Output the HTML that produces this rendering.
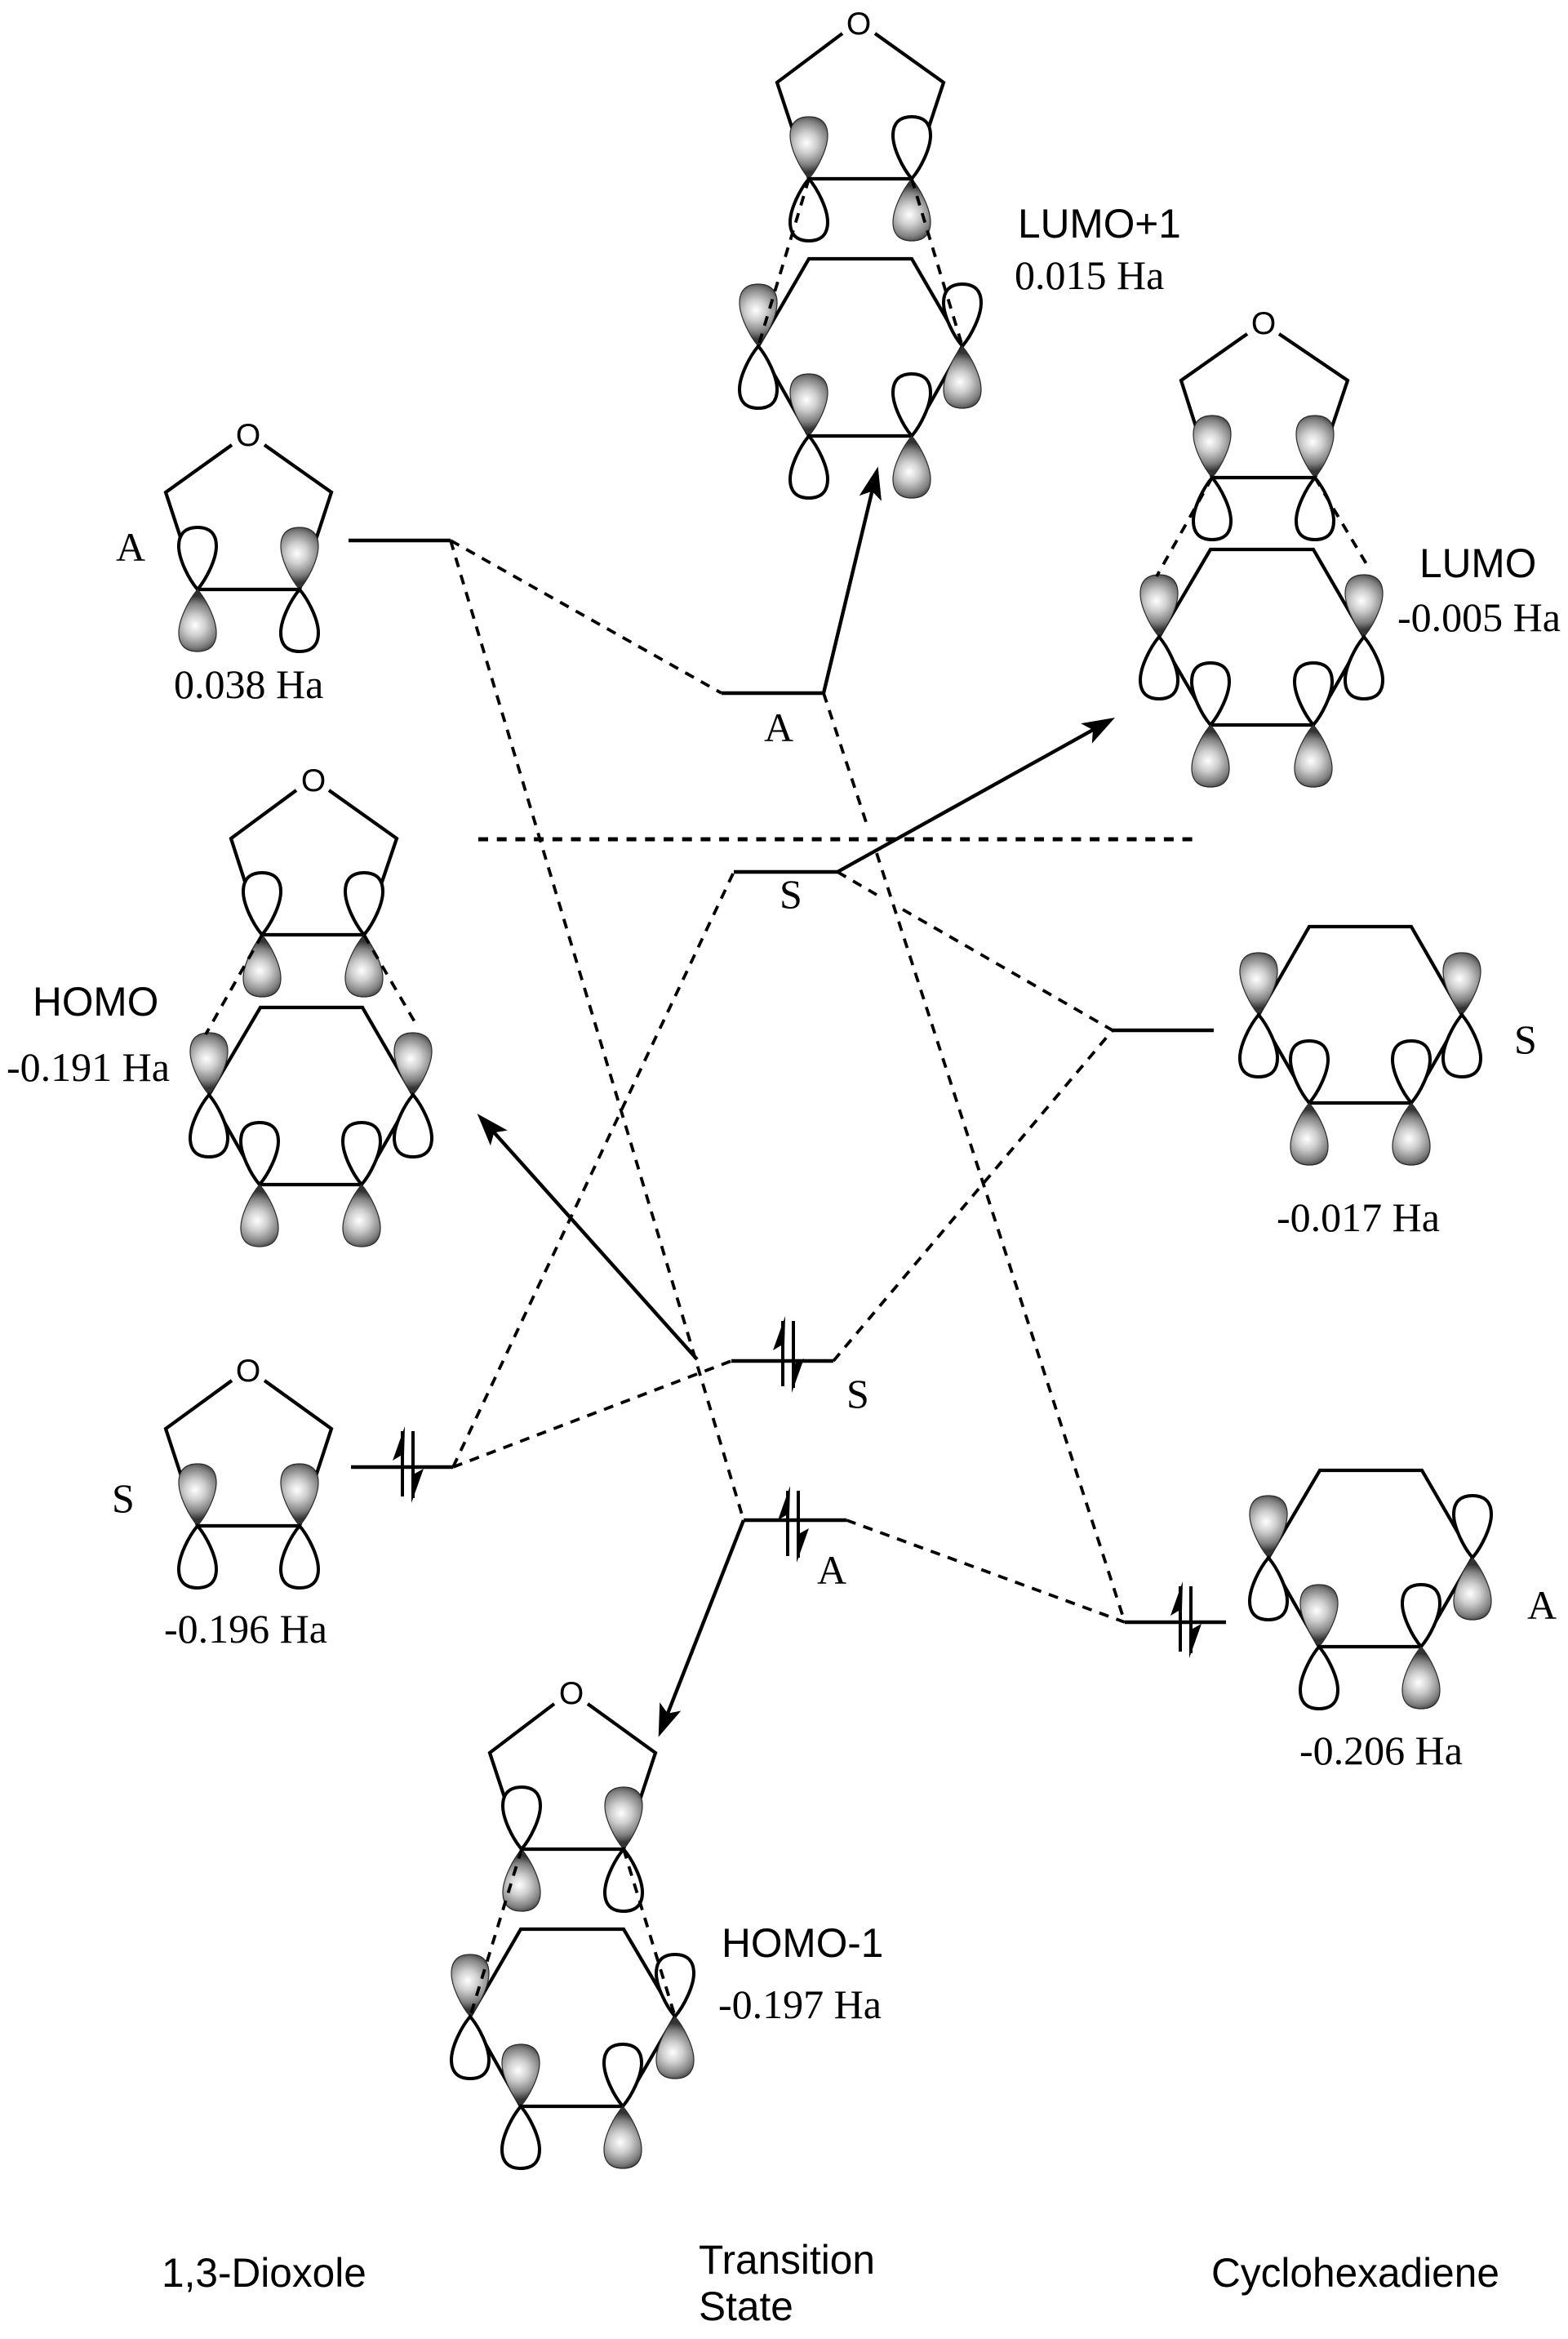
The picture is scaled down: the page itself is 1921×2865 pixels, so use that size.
<!DOCTYPE html>
<html>
<head>
<meta charset="utf-8">
<title>Frontier orbital diagram</title>
<style>
html,body{margin:0;padding:0;background:#fff;width:1921px;height:2865px;overflow:hidden}
svg{display:block}
.b{fill:none;stroke:#000;stroke-width:4.2;stroke-linecap:butt;stroke-linejoin:miter}
.d{fill:none;stroke:#000;stroke-width:3.8;stroke-dasharray:12 10}
.l{fill:none;stroke:#000;stroke-width:4.5}
.a{fill:none;stroke:#000;stroke-width:4.4}
.v{font-family:"Liberation Serif",serif;font-size:50px;fill:#000}
.t{font-family:"Liberation Sans",sans-serif;font-size:49.6px;fill:#000}
.o{font-family:"Liberation Sans",sans-serif;font-size:39px;fill:#000;text-anchor:middle}
</style>
</head>
<body>
<svg xmlns="http://www.w3.org/2000/svg" width="1921" height="2865" viewBox="0 0 1921 2865">
<defs>
<radialGradient id="gu" gradientUnits="userSpaceOnUse" cx="-3" cy="-44" r="36">
<stop offset="0" stop-color="#fff"/><stop offset=".35" stop-color="#cfcfcf"/><stop offset=".75" stop-color="#808080"/><stop offset="1" stop-color="#333"/>
</radialGradient>
<radialGradient id="gd" gradientUnits="userSpaceOnUse" cx="-3" cy="44" r="36">
<stop offset="0" stop-color="#fff"/><stop offset=".35" stop-color="#cfcfcf"/><stop offset=".75" stop-color="#808080"/><stop offset="1" stop-color="#333"/>
</radialGradient>
<path id="pu" d="M0,0C-11,-13 -23,-37 -23,-53C-23,-69 -14,-76 0,-76C14,-76 23,-69 23,-53C23,-37 11,-13 0,0Z"/>
<path id="pd" d="M0,0C-11,13 -23,37 -23,53C-23,69 -14,76 0,76C14,76 23,69 23,53C23,37 11,13 0,0Z"/>
<use id="uo" href="#pu" fill="#fff" stroke="#000" stroke-width="4"/>
<use id="do" href="#pd" fill="#fff" stroke="#000" stroke-width="4"/>
<use id="uf" href="#pu" fill="url(#gu)" stroke="#2a2a2a" stroke-width="1.2"/>
<use id="df" href="#pd" fill="url(#gd)" stroke="#2a2a2a" stroke-width="1.2"/>
<marker id="ah" markerUnits="userSpaceOnUse" markerWidth="44" markerHeight="32" refX="20" refY="16" orient="auto">
<path d="M40,16L0,2L9,16L0,30Z" fill="#000"/>
</marker>
<g id="spin">
<path d="M0,-44V36M13,-44V38" fill="none" stroke="#000" stroke-width="4"/>
<path d="M3,-50L-12,-8L-2,-14L2,-14Z" fill="#000"/>
<path d="M11,44L26,2L15,8L11,8Z" fill="#000"/>
</g>
</defs>

<!-- connectors -->
<path class="d" d="M552,662L884,849"/>
<path class="d" d="M552,662L911,1862"/>
<path class="d" d="M1009,849L1063,1013"/>
<path class="d" d="M1074,1045L1378,1987"/>
<path class="d" d="M555,1797L899,1068"/>
<path class="d" d="M555,1797L896,1667"/>
<path class="d" d="M1026,1068L1074,1096"/>
<path class="d" d="M1106,1114L1363,1262"/>
<path class="d" d="M1021,1667L1363,1262"/>
<path class="d" d="M1037,1862L1378,1987"/>
<path fill="none" stroke="#000" stroke-width="5" stroke-dasharray="12 10.7" d="M586,1028H1467"/>

<!-- levels -->
<path class="l" d="M427,662H552"/>
<path class="l" d="M884,849H1009"/>
<path class="l" d="M899,1068H1026"/>
<path class="l" d="M1363,1262H1487"/>
<path class="l" d="M430,1797H555"/>
<path class="l" d="M896,1667H1021"/>
<path class="l" d="M911,1862H1037"/>
<path class="l" d="M1378,1987H1502"/>

<use href="#spin" transform="translate(493,1797)"/>
<use href="#spin" transform="translate(959,1662)"/>
<use href="#spin" transform="translate(965,1870)"/>
<use href="#spin" transform="translate(1446,1987)"/>

<!-- solid arrows -->
<path class="a" d="M1009,849L1071,591" marker-end="url(#ah)"/>
<path class="a" d="M1026,1068L1348.5,888.7" marker-end="url(#ah)"/>
<path class="a" d="M854,1665L598,1379" marker-end="url(#ah)"/>
<path class="a" d="M911,1862L814,2109" marker-end="url(#ah)"/>

<!-- LUMO+1 (TS) -->
<path class="b" d="M1032,41L952,101L991,219H1117L1156,101L1072,41"/>
<path class="b" d="M929,424L991,317H1117L1179,424L1117,534H991Z"/>
<use href="#uf" x="991" y="219"/><use href="#do" x="991" y="219"/>
<use href="#uo" x="1117" y="219"/><use href="#df" x="1117" y="219"/>
<use href="#uf" x="929" y="424"/><use href="#do" x="929" y="424"/>
<use href="#uo" x="1179" y="424"/><use href="#df" x="1179" y="424"/>
<use href="#uf" x="991" y="534"/><use href="#do" x="991" y="534"/>
<use href="#uo" x="1117" y="534"/><use href="#df" x="1117" y="534"/>
<path class="d" d="M991,219L929,424"/><path class="d" d="M1117,219L1179,424"/>
<text class="o" x="1052" y="42">O</text>

<!-- LUMO -->
<path class="b" d="M1528,409L1447,466L1485,585H1611L1651,466L1567,409"/>
<path class="b" d="M1420,780L1483,673H1609L1671,780L1609,888H1483Z"/>
<use href="#uf" x="1485" y="585"/><use href="#do" x="1485" y="585"/>
<use href="#uf" x="1611" y="585"/><use href="#do" x="1611" y="585"/>
<use href="#uf" x="1420" y="780"/><use href="#do" x="1420" y="780"/>
<use href="#uf" x="1671" y="780"/><use href="#do" x="1671" y="780"/>
<use href="#uo" x="1483" y="888"/><use href="#df" x="1483" y="888"/>
<use href="#uo" x="1609" y="888"/><use href="#df" x="1609" y="888"/>
<path class="d" d="M1485,585L1417,706"/><path class="d" d="M1611,585L1676,694"/>
<text class="o" x="1548" y="409">O</text>

<!-- A dioxole -->
<path class="b" d="M284,545L203,603L242,722H367L406,603L324,545"/>
<use href="#uo" x="242" y="722"/><use href="#df" x="242" y="722"/>
<use href="#uf" x="367" y="722"/><use href="#do" x="367" y="722"/>
<text class="o" x="304" y="546">O</text>

<!-- HOMO -->
<path class="b" d="M363,968L283,1027L321,1145H446L486,1027L403,968"/>
<path class="b" d="M256,1341L319,1234H444L506,1341L443,1451H318Z"/>
<use href="#uo" x="321" y="1145"/><use href="#df" x="321" y="1145"/>
<use href="#uo" x="446" y="1145"/><use href="#df" x="446" y="1145"/>
<use href="#uf" x="256" y="1341"/><use href="#do" x="256" y="1341"/>
<use href="#uf" x="506" y="1341"/><use href="#do" x="506" y="1341"/>
<use href="#uo" x="318" y="1451"/><use href="#df" x="318" y="1451"/>
<use href="#uo" x="443" y="1451"/><use href="#df" x="443" y="1451"/>
<path class="d" d="M321,1145L252,1267"/><path class="d" d="M446,1145L510,1255"/>
<text class="o" x="384" y="969">O</text>

<!-- S dioxole -->
<path class="b" d="M284,1691L203,1750L242,1869H367L406,1750L324,1691"/>
<use href="#uf" x="242" y="1869"/><use href="#do" x="242" y="1869"/>
<use href="#uf" x="367" y="1869"/><use href="#do" x="367" y="1869"/>
<text class="o" x="304" y="1692">O</text>

<!-- HOMO-1 -->
<path class="b" d="M679,2087L600,2147L639,2265H764L803,2147L720,2087"/>
<path class="b" d="M576,2470L638,2363H764L827,2470L763,2580H638Z"/>
<use href="#uo" x="639" y="2265"/><use href="#df" x="639" y="2265"/>
<use href="#uf" x="764" y="2265"/><use href="#do" x="764" y="2265"/>
<use href="#uf" x="576" y="2470"/><use href="#do" x="576" y="2470"/>
<use href="#uo" x="827" y="2470"/><use href="#df" x="827" y="2470"/>
<use href="#uf" x="638" y="2580"/><use href="#do" x="638" y="2580"/>
<use href="#uo" x="763" y="2580"/><use href="#df" x="763" y="2580"/>
<path class="d" d="M639,2265L576,2470"/><path class="d" d="M764,2265L827,2470"/>
<text class="o" x="700" y="2087">O</text>

<!-- S hexadiene -->
<path class="b" d="M1542,1243L1604,1135H1729L1791,1243L1729,1351H1604Z"/>
<use href="#uf" x="1542" y="1243"/><use href="#do" x="1542" y="1243"/>
<use href="#uf" x="1791" y="1243"/><use href="#do" x="1791" y="1243"/>
<use href="#uo" x="1604" y="1351"/><use href="#df" x="1604" y="1351"/>
<use href="#uo" x="1729" y="1351"/><use href="#df" x="1729" y="1351"/>

<!-- A hexadiene -->
<path class="b" d="M1554,1908L1617,1801H1742L1804,1908L1741,2017H1616Z"/>
<use href="#uf" x="1554" y="1908"/><use href="#do" x="1554" y="1908"/>
<use href="#uo" x="1804" y="1908"/><use href="#df" x="1804" y="1908"/>
<use href="#uf" x="1616" y="2017"/><use href="#do" x="1616" y="2017"/>
<use href="#uo" x="1741" y="2017"/><use href="#df" x="1741" y="2017"/>

<!-- labels -->
<text class="t" x="1247" y="291">LUMO+1</text>
<text class="v" x="1243" y="354">0.015 Ha</text>
<text class="t" x="1739" y="707">LUMO</text>
<text class="v" x="1712" y="773">-0.005 Ha</text>
<text class="v" x="142" y="687">A</text>
<text class="v" x="213" y="855">0.038 Ha</text>
<text class="v" x="936" y="908">A</text>
<text class="v" x="955" y="1112">S</text>
<text class="t" x="40" y="1244">HOMO</text>
<text class="v" x="8" y="1324">-0.191 Ha</text>
<text class="v" x="1855" y="1290">S</text>
<text class="v" x="1564" y="1508">-0.017 Ha</text>
<text class="v" x="1037" y="1724">S</text>
<text class="v" x="137" y="1852">S</text>
<text class="v" x="201" y="2012">-0.196 Ha</text>
<text class="v" x="1001" y="1940">A</text>
<text class="v" x="1871" y="1983">A</text>
<text class="v" x="1592" y="2161">-0.206 Ha</text>
<text class="t" x="884" y="2397">HOMO-1</text>
<text class="v" x="880" y="2472">-0.197 Ha</text>
<text class="t" x="198" y="2801">1,3-Dioxole</text>
<text class="t" x="856" y="2785">Transition</text>
<text class="t" x="856" y="2842">State</text>
<text class="t" x="1484" y="2801">Cyclohexadiene</text>
</svg>
</body>
</html>
